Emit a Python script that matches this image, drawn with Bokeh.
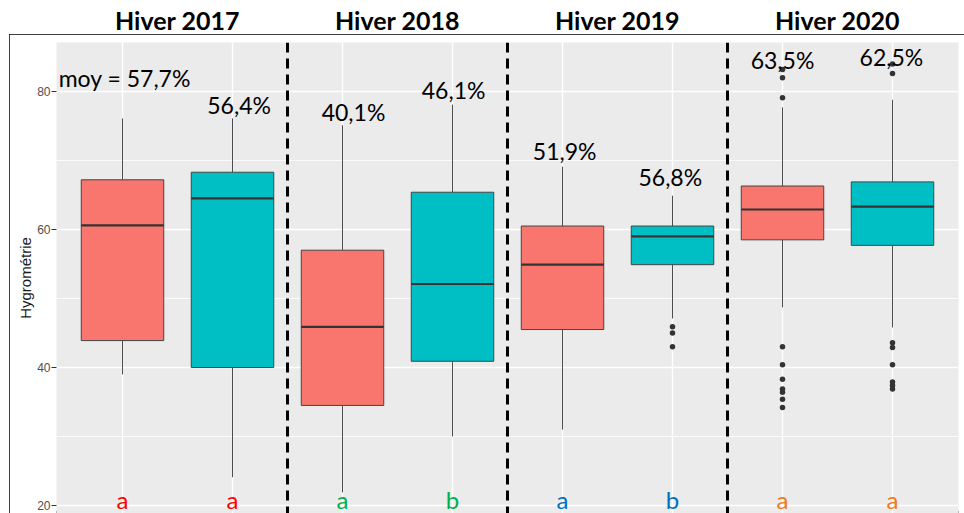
from bokeh.plotting import figure
from bokeh.layouts import column, row
from bokeh.models import ColumnDataSource, FixedTicker, Span, Range1d, Spacer
from bokeh.embed import file_html
from bokeh.resources import INLINE
from bokeh.core.properties import value

# ---------------- data ----------------
groups = ["Hiver 2017", "Hiver 2018", "Hiver 2019", "Hiver 2020"]
group_centers = [1.5, 3.5, 5.5, 7.5]
positions = [1, 2, 3, 4, 5, 6, 7, 8]
fills = ["#F8766D", "#00BFC4"] * 4
whisker_low = [39.0, 24.1, 21.9, 30.0, 31.0, 47.1, 48.7, 45.8]
q1 = [43.9, 40.0, 34.5, 40.9, 45.5, 54.9, 58.5, 57.7]
median = [60.6, 64.5, 45.9, 52.1, 54.9, 59.0, 62.9, 63.3]
q3 = [67.2, 68.3, 57.0, 65.4, 60.5, 60.5, 66.3, 66.9]
whisker_high = [76.1, 76.1, 75.1, 78.1, 69.1, 64.9, 77.7, 78.8]
outliers = [
    [], [], [], [], [],
    [45.9, 45.0, 43.0],
    [83.2, 82.0, 79.1, 43.0, 40.4, 38.3, 36.9, 36.4, 35.4, 34.2],
    [84.0, 82.6, 43.6, 42.9, 40.4, 37.9, 37.4, 36.9],
]
mean_labels = ["moy = 57,7%", "56,4%", "40,1%", "46,1%", "51,9%", "56,8%", "63,5%", "62,5%"]
label_y = [81.9, 78.1, 77.0, 80.2, 71.4, 67.6, 84.6, 85.0]
label_x = [0.42, 2.06, 3.10, 4.01, 5.02, 5.98, 7.00, 7.99]
label_align = ["left", "center", "center", "center", "center", "center", "center", "center"]
letters = ["a", "a", "a", "b", "a", "b", "a", "a"]
letter_y = 20.94
letter_colors = ["#FF0000", "#FF0000", "#00B050", "#00B050",
                 "#0070C0", "#0070C0", "#EE7A22", "#EE7A22"]
y_ticks = [20, 40, 60, 80]
y_minor = [30, 50, 70]

# ---------------- shared x scale ----------------
X0, X1 = 0.4, 8.6
xr = Range1d(X0, X1)

# ---------------- titles strip ----------------
t = figure(width=964, height=34, x_range=xr, y_range=Range1d(0, 34), title=None,
           output_backend="svg", toolbar_location=None,
           min_border_left=56, min_border_right=6, min_border_top=0, min_border_bottom=0)
t.axis.visible = False
t.grid.visible = False
t.outline_line_color = None
t.background_fill_color = "white"
t.border_fill_color = "white"
tsrc = ColumnDataSource(dict(x=group_centers, y=[14.5] * 4, t=groups))
t.text(x="x", y="y", text="t", source=tsrc, text_font=value("Lato"),
       text_font_style="bold", text_font_size="25px", text_color="black",
       text_align="center", text_baseline="middle")

# ---------------- main panel ----------------
p = figure(width=955, height=479, x_range=xr, y_range=Range1d(18.84, 87.1), title=None,
           output_backend="svg", toolbar_location=None,
           min_border_left=47, min_border_top=8, min_border_right=6, min_border_bottom=0,
           styles={"outline": "2px solid black", "outline-offset": "-2px"})
p.background_fill_color = "#EBEBEB"
p.border_fill_color = "white"
p.outline_line_color = None

p.xaxis.visible = False
p.xgrid.ticker = FixedTicker(ticks=positions)
p.xgrid.grid_line_color = "white"
p.xgrid.grid_line_width = 1.4

p.yaxis.ticker = FixedTicker(ticks=y_ticks, minor_ticks=y_minor)
p.ygrid.grid_line_color = "white"
p.ygrid.grid_line_width = 1.4
p.ygrid.minor_grid_line_color = "white"
p.ygrid.minor_grid_line_width = 0.8
p.yaxis.axis_line_color = None
p.yaxis.minor_tick_line_color = None
p.yaxis.major_tick_line_color = "#333333"
p.yaxis.major_tick_in = 0
p.yaxis.major_tick_out = 5
p.yaxis.major_label_standoff = 1
p.yaxis.major_label_text_font = "Liberation Sans"
p.yaxis.major_label_text_font_size = "12px"
p.yaxis.major_label_text_color = "#4D4D4D"
p.yaxis.axis_label = "Hygrométrie"
p.yaxis.axis_label_text_font = "Liberation Sans"
p.yaxis.axis_label_text_font_size = "15px"
p.yaxis.axis_label_text_font_style = "normal"
p.yaxis.axis_label_text_color = "#1A1A1A"
p.yaxis.axis_label_standoff = 0

# boxes
src = ColumnDataSource(dict(x=positions, lo=whisker_low, q1=q1, med=median,
                            q3=q3, hi=whisker_high, fill=fills))
p.segment(x0="x", y0="q3", x1="x", y1="hi", source=src, line_color="#4D4D4D", line_width=1)
p.segment(x0="x", y0="lo", x1="x", y1="q1", source=src, line_color="#4D4D4D", line_width=1)
p.vbar(x="x", width=0.75, bottom="q1", top="q3", source=src, fill_color="fill",
       line_color="#444444", line_width=1)
p.rect(x="x", y="med", width=0.75, height=2.2, height_units="screen", source=src,
       fill_color="#333333", line_color=None)

ox, oy = [], []
for xi, vals in zip(positions, outliers):
    for v in vals:
        ox.append(xi)
        oy.append(v)
p.scatter(ox, oy, size=5.5, fill_color="#333333", line_color=None)

# dashed separators
for xs in [2.5, 4.5, 6.5]:
    p.add_layout(Span(location=xs, dimension="height", line_color="black",
                      line_width=3, line_dash="10 6"))

# letters
lsrc = ColumnDataSource(dict(x=positions, y=[letter_y] * 8, t=letters, c=letter_colors))
p.text(x="x", y="y", text="t", source=lsrc, text_color="c", text_font=value("Lato"),
       text_font_size="24px", text_align="center", text_baseline="middle")

# mean labels
msrc = ColumnDataSource(dict(x=label_x, y=label_y, t=mean_labels, a=label_align))
p.text(x="x", y="y", text="t", source=msrc, text_font=value("Lato"),
       text_font_size="23px", text_color="black", text_align="a",
       text_baseline="middle")

layout = column(t, row(Spacer(width=9, height=479), p))
open("out.html", "w").write(file_html(layout, INLINE))
